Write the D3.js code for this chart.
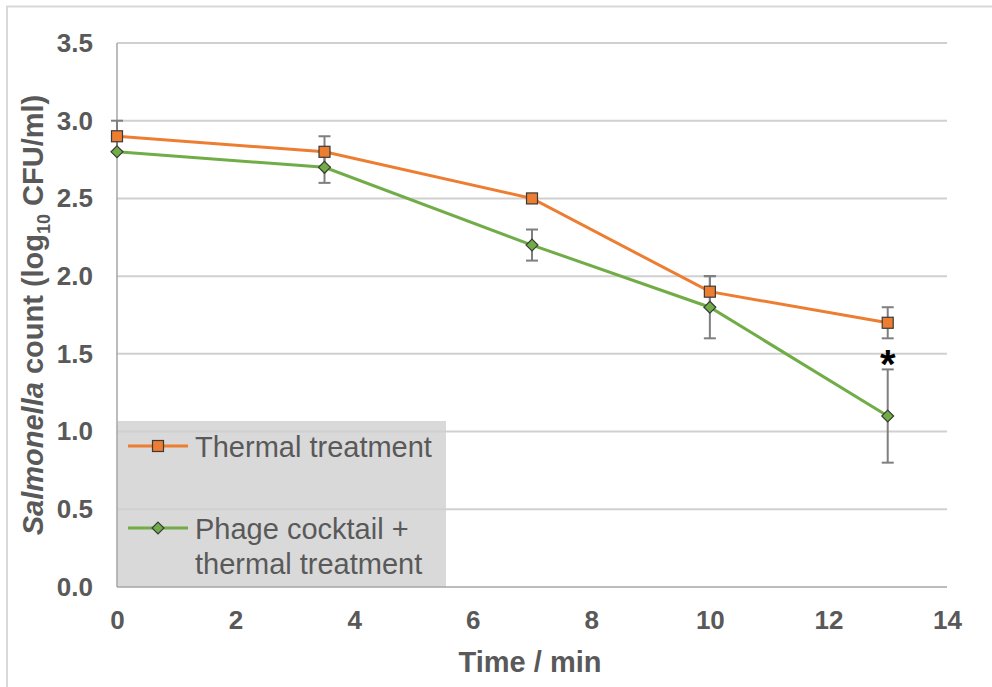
<!DOCTYPE html>
<html>
<head>
<meta charset="utf-8">
<script src="https://cdn.jsdelivr.net/npm/d3@7"></script>
<style>
  html, body { margin: 0; padding: 0; background: #fff; }
  svg { display: block; font-family: "Liberation Sans", Arial, sans-serif; }
</style>
</head>
<body>
<svg id="chart" width="992" height="687"></svg>
<script>
// Sampling times (min)
const times = [0, 3.5, 7, 10, 13];
// Mean Salmonella counts, log10 CFU/ml
const thermal = [2.9, 2.8, 2.5, 1.9, 1.7];
const phage = [2.8, 2.7, 2.2, 1.8, 1.1];
// Standard deviations
const thermalErr = [0.1, 0.1, 0.0, 0.1, 0.1];
const phageErr = [0.0, 0.1, 0.1, 0.2, 0.3];
// Axis ticks
const xTicks = [0, 2, 4, 6, 8, 10, 12, 14];
const yTicks = [0.0, 0.5, 1.0, 1.5, 2.0, 2.5, 3.0, 3.5];
// Series names
const seriesNames = ["Thermal treatment", ["Phage cocktail +", "thermal treatment"]];

const svg = d3.select("#chart");
const plot = { left: 117, right: 947, top: 43, bottom: 587 };
const x = d3.scaleLinear().domain([0, 14]).range([plot.left, plot.right]);
const y = d3.scaleLinear().domain([0, 3.5]).range([plot.bottom, plot.top]);

const textColor = "#595959";
const orange = "#ed7d31", green = "#70ad47";

// chart area frame
svg.append("rect").attr("x", 7).attr("y", 6.5).attr("width", 1000).attr("height", 700)
  .attr("fill", "none").attr("stroke", "#d9d9d9").attr("stroke-width", 2);

// legend background (sits behind the gridlines)
svg.append("rect").attr("x", x(0)).attr("y", 421).attr("width", 446 - x(0)).attr("height", plot.bottom - 421)
  .attr("fill", "#d9d9d9");

// gridlines
svg.append("g").selectAll("line").data(yTicks.filter(d => d > 0)).join("line")
  .attr("x1", plot.left).attr("x2", plot.right)
  .attr("y1", d => y(d)).attr("y2", d => y(d))
  .attr("stroke", "#d0d0d0").attr("stroke-width", 2);

// axis lines
svg.append("line").attr("x1", plot.left).attr("x2", plot.left).attr("y1", plot.top).attr("y2", plot.bottom)
  .attr("stroke", "#a6a6a6").attr("stroke-width", 1.5);
svg.append("line").attr("x1", plot.left).attr("x2", plot.right).attr("y1", plot.bottom).attr("y2", plot.bottom)
  .attr("stroke", "#a6a6a6").attr("stroke-width", 1.5);

// tick labels
const xAxis = svg.append("g").attr("transform", `translate(0,${plot.bottom + 8})`)
  .call(d3.axisBottom(x).tickValues(xTicks).tickFormat(d3.format("d")).tickSize(0).tickPadding(16));
const yAxis = svg.append("g").attr("transform", `translate(${plot.left - 24},0)`)
  .call(d3.axisLeft(y).tickValues(yTicks).tickFormat(d3.format(".1f")).tickSize(0).tickPadding(0));
[xAxis, yAxis].forEach(g => {
  g.select(".domain").remove();
  g.selectAll("text").attr("fill", textColor).attr("font-size", 26).attr("font-weight", "bold")
    .attr("font-family", "'Liberation Sans', Arial, sans-serif");
});

// axis titles
svg.append("text").attr("x", 530).attr("y", 672).attr("text-anchor", "middle")
  .attr("fill", textColor).attr("font-size", 29).attr("font-weight", "bold").text("Time / min");
const yt = svg.append("text").attr("transform", `translate(43,315) rotate(-90)`)
  .attr("text-anchor", "middle").attr("fill", textColor).attr("font-size", 29).attr("font-weight", "bold");
yt.append("tspan").attr("font-style", "italic").text("Salmonella");
yt.append("tspan").text(" count (log");
yt.append("tspan").attr("font-size", 18).attr("dy", 7).text("10");
yt.append("tspan").attr("dy", -7).text(" CFU/ml)");

// series
const series = [
  { vals: thermal, err: thermalErr, color: orange, shape: "square" },
  { vals: phage, err: phageErr, color: green, shape: "diamond" }
];
const line = d3.line().x(d => x(d[0])).y(d => y(d[1]));

function marker(g, shape, color, cx, cy) {
  if (shape === "square") {
    g.append("rect").attr("x", cx - 5.5).attr("y", cy - 5.5).attr("width", 11).attr("height", 11)
      .attr("fill", color).attr("stroke", "#3a3a3a").attr("stroke-width", 1.2);
  } else {
    g.append("path").attr("d", d3.symbol(d3.symbolDiamond2, 90)())
      .attr("transform", `translate(${cx},${cy})`)
      .attr("fill", color).attr("stroke", "#3a3a3a").attr("stroke-width", 1.2);
  }
}

// error bars drawn under the lines
series.forEach(s => {
  const g = svg.append("g");
  times.forEach((t, i) => {
    if (!s.err[i]) return;
    const cx = x(t);
    const y1 = y(s.vals[i] + s.err[i]), y0 = y(s.vals[i] - s.err[i]);
    g.append("line").attr("x1", cx).attr("x2", cx).attr("y1", y1).attr("y2", y0)
      .attr("stroke", "#7f7f7f").attr("stroke-width", 2);
    [y1, y0].forEach(yy => g.append("line").attr("x1", cx - 6).attr("x2", cx + 6)
      .attr("y1", yy).attr("y2", yy).attr("stroke", "#7f7f7f").attr("stroke-width", 2));
  });
});

series.forEach(s => {
  const pts = times.map((t, i) => [t, s.vals[i]]);
  svg.append("path").datum(pts).attr("d", line).attr("fill", "none")
    .attr("stroke", s.color).attr("stroke-width", 3);
});
series.forEach(s => {
  const g = svg.append("g");
  times.forEach((t, i) => marker(g, s.shape, s.color, x(t), y(s.vals[i])));
});

// significance marker between the two error bars at the last time point
svg.append("text").attr("x", x(13)).attr("y", (y(1.7 - 0.1) + y(1.1 + 0.3)) / 2 + 24).attr("text-anchor", "middle")
  .attr("fill", "#000").attr("font-size", 40).attr("font-weight", "bold").text("*");

// legend entries
const legendItems = [
  { name: seriesNames[0], color: orange, shape: "square", cy: 446 },
  { name: seriesNames[1], color: green, shape: "diamond", cy: 528 }
];
legendItems.forEach(it => {
  const g = svg.append("g");
  g.append("line").attr("x1", 128).attr("x2", 188).attr("y1", it.cy).attr("y2", it.cy)
    .attr("stroke", it.color).attr("stroke-width", 3);
  marker(g, it.shape, it.color, 158, it.cy);
  const lines = Array.isArray(it.name) ? it.name : [it.name];
  const t = g.append("text").attr("fill", textColor).attr("font-size", 29);
  lines.forEach((l, k) => t.append("tspan").attr("x", 195).attr("y", it.cy + 10.5 + k * 35).text(l));
});
</script>
</body>
</html>
